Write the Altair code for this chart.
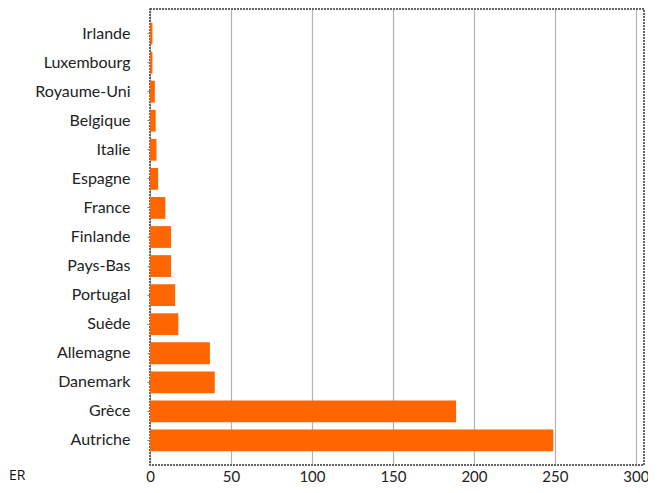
import altair as alt
import pandas as pd

countries = ["Irlande", "Luxembourg", "Royaume-Uni", "Belgique", "Italie", "Espagne",
             "France", "Finlande", "Pays-Bas", "Portugal", "Suède", "Allemagne",
             "Danemark", "Grèce", "Autriche"]
values = [1.5, 1.5, 3, 3.5, 4, 5, 9.5, 13, 13, 15.5, 17.5, 37, 40, 189, 249]
x_ticks = [0, 50, 100, 150, 200, 250, 300]
note_text = ["ER"]

df = pd.DataFrame({"pays": countries, "valeur": values})
note = pd.DataFrame({"t": note_text})

bars = alt.Chart(df).mark_bar(color="#FF6600").encode(
    y=alt.Y("pays:N", sort=countries,
            scale=alt.Scale(paddingInner=0.25, paddingOuter=0.47),
            axis=alt.Axis(title=None, labelFont="Lato", labelFontSize=16,
                          labelColor="#222", ticks=True, tickSize=3,
                          tickColor="#888", labelPadding=17, domain=False,
                          grid=False)),
    x=alt.X("valeur:Q", scale=alt.Scale(domain=[0, 305], nice=False),
            axis=alt.Axis(values=x_ticks, title=None, grid=True,
                          gridDash=[1, 1], gridColor="#666", gridWidth=1.2,
                          labelFont="Lato", labelFontSize=15, labelColor="#222",
                          labelFlush=False, domain=False, ticks=False,
                          labelPadding=4)),
)

txt = alt.Chart(note).mark_text(align="left", baseline="alphabetic",
                                font="Open Sans", fontSize=14, color="#111").encode(
    x=alt.value(-141), y=alt.value(471), text="t:N")

chart = alt.layer(bars, txt).properties(
    width=494, height=456,
    padding={"left": 142, "top": 1, "right": 4, "bottom": 20},
    autosize="none",
).configure_view(stroke="#333", strokeWidth=1.5, strokeDash=[2, 1])

chart.save("out.html", embed_options={"renderer": "svg", "actions": False})
